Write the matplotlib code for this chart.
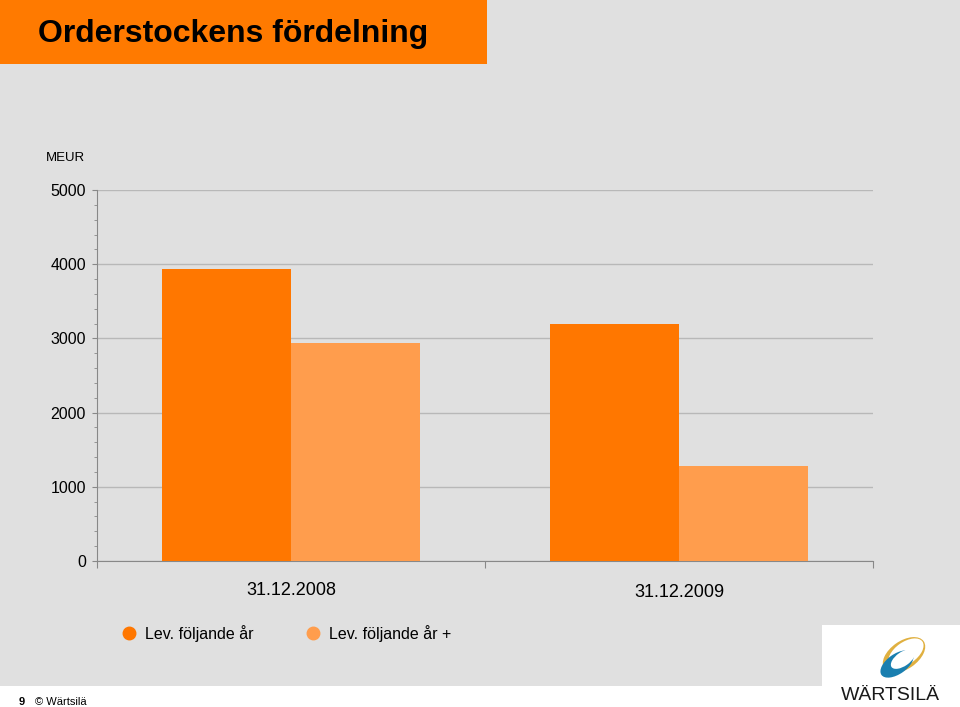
#!/usr/bin/env python3
##
# Orderstockens fördelning - grouped bar chart
##

import matplotlib
matplotlib.use('Agg')
import matplotlib.pyplot as plt
from matplotlib.patches import Rectangle, Ellipse
from matplotlib.lines import Line2D

plt.rcParams['font.family'] = ['Liberation Sans', 'DejaVu Sans']

# data
categories = ['31.12.2008', '31.12.2009']
series_names = ['Lev. följande år', 'Lev. följande år +']
lev_foljande = [3935, 3200]
lev_foljande_plus = [2940, 1280]
y_ticks = [0, 1000, 2000, 3000, 4000, 5000]

dark = '#ff7700'
light = '#ff9d4d'
bg = '#e0e0e0'

fig = plt.figure(figsize=(9.6, 7.07), dpi=100)
fig.patch.set_facecolor('white')

# gray slide background, white footer strip and logo box
fig.add_artist(Rectangle((0, 21/707), 1, 1, transform=fig.transFigure,
                         facecolor=bg, edgecolor='none', zorder=-10))
fig.add_artist(Rectangle((822/960, 0), 138/960, 82/707, transform=fig.transFigure,
                         facecolor='white', edgecolor='none', zorder=-9))
# title banner
fig.add_artist(Rectangle((0, 1 - 64/707), 487/960, 64/707, transform=fig.transFigure,
                         facecolor='#ff7a00', edgecolor='none', zorder=-8))
fig.text(38/960, 1 - 34/707, 'Orderstockens fördelning', fontsize=23, fontweight='bold',
         va='center', ha='left', color='black')

ax = fig.add_axes([97/960, 1 - 561/707, 776/960, 371/707])
ax.patch.set_alpha(0)

w = 0.3325
x = range(len(categories))
ax.bar([i - w/2 for i in x], lev_foljande, width=w, color=dark, zorder=3)
ax.bar([i + w/2 for i in x], lev_foljande_plus, width=w, color=light, zorder=3)

ax.set_xlim(-0.5, 1.5)
ax.set_ylim(0, 5000)
ax.set_yticks(y_ticks)
ax.set_yticklabels([str(v) for v in y_ticks], fontsize=11.5)
ax.set_yticks(range(0, 5001, 200), minor=True)
ax.yaxis.grid(True, which='major', color='#b8b8b8', linewidth=1, zorder=0)

ax.set_xticks([-0.5, 0.5, 1.5])
ax.set_xticklabels([])
ax.tick_params(axis='x', direction='out', length=5, color='#888888')
ax.tick_params(axis='y', which='major', direction='out', length=3.5, color='#888888', pad=4.5)
ax.tick_params(axis='y', which='minor', direction='out', length=2.5, color='#888888')

for s in ['top', 'right']:
    ax.spines[s].set_visible(False)
ax.spines['left'].set_color('#888888')
ax.spines['bottom'].set_color('#888888')

# category labels
label_y = [-0.08, -0.085]
for i, cat in enumerate(categories):
    ax.text(i, 5000 * label_y[i], cat, fontsize=13, ha='center', va='center', clip_on=False)

fig.text(46/960, 1 - 158/707, 'MEUR', fontsize=9.5, va='center', ha='left')

# legend
for (xm, name, col) in [(129, series_names[0], dark), (313, series_names[1], light)]:
    fig.add_artist(Line2D([xm/960], [1 - 633/707], marker='o', markersize=9,
                          color=col, transform=fig.transFigure))
    fig.text((xm + 16)/960, 1 - 634/707, name, fontsize=11.5, va='center', ha='left')

# footer
fig.text(19/960, 1 - 702/707, '9', fontsize=8, fontweight='bold', va='center')
fig.text(35/960, 1 - 702/707, '© Wärtsilä', fontsize=8, va='center')

# logo
lax = fig.add_axes([840/960, 0, 100/960, 80/707])
lax.set_xlim(0, 100)
lax.set_ylim(0, 80)
lax.axis('off')
lax.add_patch(Ellipse((64, 52), 48, 28, angle=35, facecolor='#e0b040', edgecolor='none'))
lax.add_patch(Ellipse((66, 54), 40, 22, angle=35, facecolor='white', edgecolor='none'))
lax.add_patch(Ellipse((57, 43), 38, 20, angle=35, facecolor='#1a7fb0', edgecolor='none'))
lax.add_patch(Ellipse((63, 48), 28, 14, angle=35, facecolor='white', edgecolor='none'))
lax.text(50, 12, 'WÄRTSILÄ', fontsize=14, ha='center', va='center', color='#1a1a1a')

fig.savefig('out.png', dpi=100, facecolor=fig.get_facecolor())
